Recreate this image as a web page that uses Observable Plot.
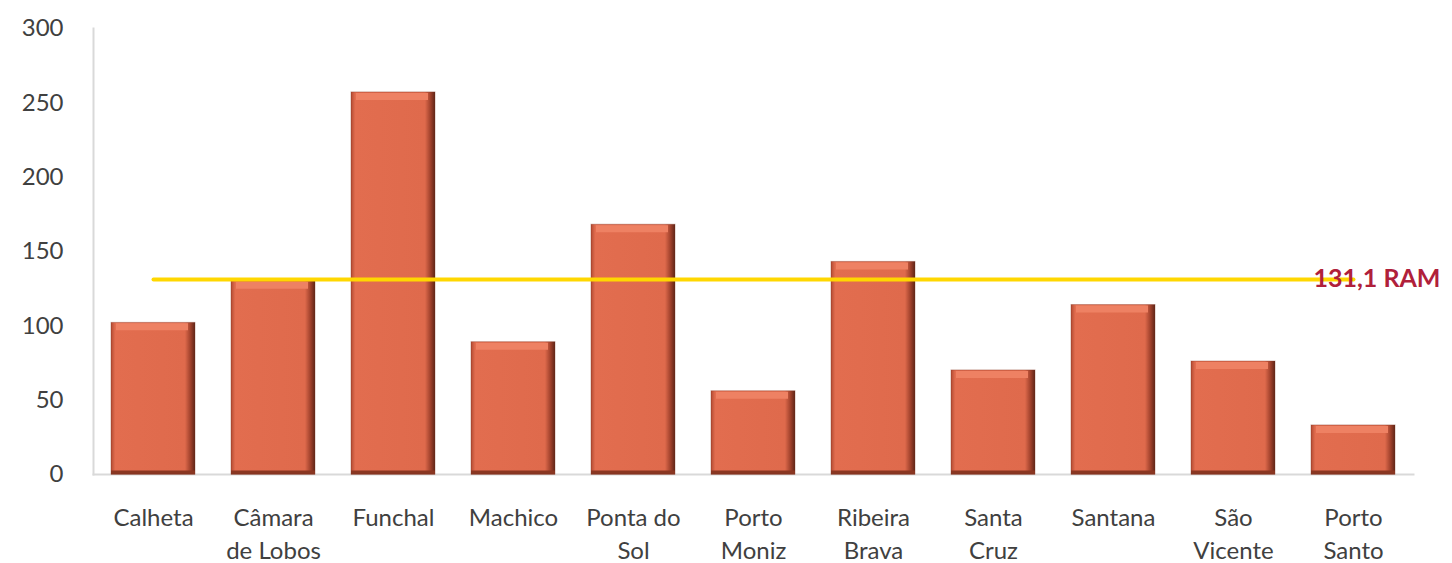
<!DOCTYPE html>
<html>
<head>
<meta charset="utf-8">
<script src="https://cdn.jsdelivr.net/npm/d3@7"></script>
<script src="https://cdn.jsdelivr.net/npm/@observablehq/plot@0.6"></script>
<style>
  html, body { margin: 0; padding: 0; background: #fff; }
  #chart svg { display: block; }
</style>
</head>
<body>
<div id="chart"></div>
<script>
const municipios = ["Calheta", "Câmara\nde Lobos", "Funchal", "Machico", "Ponta do\nSol", "Porto\nMoniz", "Ribeira\nBrava", "Santa\nCruz", "Santana", "São\nVicente", "Porto\nSanto"];
const valores = [102, 130, 257, 89, 168, 56, 143, 70, 114, 76, 33];
const mediaRAM = 131.1;
const mediaLabel = "131,1 RAM";
const yTicks = [0, 50, 100, 150, 200, 250, 300];

const data = municipios.map((m, i) => ({municipio: m, valor: valores[i]}));
const linha = [{municipio: municipios[0], valor: mediaRAM}, {municipio: municipios[municipios.length - 1], valor: mediaRAM}];

const font = "Lato, 'Open Sans', sans-serif";

const chart = Plot.plot({
  width: 1452,
  height: 563,
  marginLeft: 93,
  marginRight: 39,
  marginTop: 28,
  marginBottom: 89,
  style: {fontFamily: font, background: "#fff"},
  x: {domain: municipios, paddingInner: 0.3, paddingOuter: 0.15, label: null},
  y: {domain: [0, 300], label: null},
  marks: [
    () => {
      const ns = "http://www.w3.org/2000/svg";
      const defs = document.createElementNS(ns, "defs");
      defs.innerHTML = `
        <linearGradient id="barH" x1="0" x2="1" y1="0" y2="0">
          <stop offset="0" stop-color="#b24a32"/>
          <stop offset="0.05" stop-color="#e26d4f"/>
          <stop offset="0.88" stop-color="#df6a4c"/>
          <stop offset="0.95" stop-color="#9c3f2a"/>
          <stop offset="1" stop-color="#5e2517"/>
        </linearGradient>`;
      const g = document.createElementNS(ns, "g");
      g.appendChild(defs);
      return g;
    },
    Plot.frame({anchor: "left", stroke: "#d9d9d9", strokeWidth: 2}),
    Plot.frame({anchor: "bottom", stroke: "#d9d9d9", strokeWidth: 2}),
    Plot.barY(data, {x: "municipio", y: "valor", fill: "url(#barH)"}),
    Plot.tickY(data, {x: "municipio", y: "valor", stroke: "#ee8163", strokeWidth: 7, dy: 4, insetLeft: 5, insetRight: 7}),
    Plot.tickY(data, {x: "municipio", y: () => 0, stroke: "#8a3722", strokeWidth: 4, dy: -2}),
    Plot.barY(data, {x: "municipio", y: "valor", fill: "none", stroke: "#7a2e1c", strokeOpacity: 0.35, strokeWidth: 1}),
    Plot.lineY(linha, {x: "municipio", y: "valor", stroke: "#FFD700", strokeWidth: 4}),
    Plot.text([mediaLabel], {x: () => municipios[municipios.length - 1], y: () => mediaRAM, text: d => d, textAnchor: "start", dx: -40, dy: -1, fill: "#B0203A", fontWeight: "bold", fontSize: 25, fontFamily: font}),
    Plot.axisY({ticks: yTicks, tickSize: 0, tickPadding: 30, fontSize: 24, fill: "#404040", label: null}),
    Plot.axisX({tickSize: 0, tickPadding: 28, fontSize: 24, fill: "#404040", lineHeight: 1.375, label: null})
  ]
});
document.getElementById("chart").appendChild(chart);
</script>
</body>
</html>
